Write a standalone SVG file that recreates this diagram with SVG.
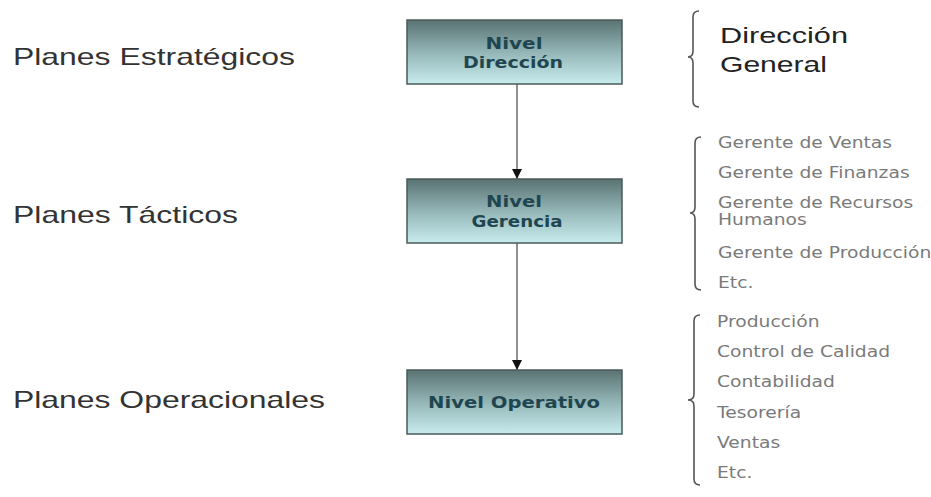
<svg xmlns="http://www.w3.org/2000/svg" width="931" height="497" viewBox="0 0 931 497">
<defs>
<linearGradient id="boxGrad" x1="0" y1="0" x2="0" y2="1">
<stop offset="0" stop-color="#5a7272"/>
<stop offset="0.5" stop-color="#93b5b6"/>
<stop offset="1" stop-color="#c8ecee"/>
</linearGradient>
<marker id="arrow" viewBox="0 0 10 10" refX="10" refY="5" markerWidth="10" markerHeight="10" markerUnits="userSpaceOnUse" orient="auto">
<path d="M0,0 L10,5 L0,10 Z" fill="#111"/>
</marker>
<style>
.box{fill:url(#boxGrad);stroke:#4b5a5a;stroke-width:1.5}
.boxtxt{font-family:"DejaVu Sans",Verdana,sans-serif;font-weight:bold;font-size:16.5px;fill:#1f4650;text-anchor:middle}
.plan{font-family:"Liberation Sans",Arial,sans-serif;font-size:24px;fill:#333}
.head{font-family:"Liberation Sans",Arial,sans-serif;font-size:22px;fill:#222}
.item{font-family:"DejaVu Sans",sans-serif;font-size:16px;fill:#7a7a7a}
.brace{fill:none;stroke:#555;stroke-width:1.6}
.conn{stroke:#555;stroke-width:1.3;fill:none}
</style>
</defs>
<rect width="931" height="497" fill="#fff"/>

<g id="labels-left">
<text class="plan" x="13" y="65" textLength="282" lengthAdjust="spacingAndGlyphs">Planes Estratégicos</text>
<text class="plan" x="13" y="223" textLength="225" lengthAdjust="spacingAndGlyphs">Planes Tácticos</text>
<text class="plan" x="13" y="408" textLength="312" lengthAdjust="spacingAndGlyphs">Planes Operacionales</text>
</g>

<g id="connectors">
<line class="conn" x1="517" y1="84" x2="517" y2="179" marker-end="url(#arrow)"/>
<line class="conn" x1="517" y1="243" x2="517" y2="370" marker-end="url(#arrow)"/>
</g>

<g id="node-direccion">
<rect class="box" x="407" y="20" width="215" height="64"/>
<text class="boxtxt" x="514" y="49" textLength="57" lengthAdjust="spacingAndGlyphs">Nivel</text>
<text class="boxtxt" x="513" y="68" textLength="100" lengthAdjust="spacingAndGlyphs">Dirección</text>
</g>
<g id="node-gerencia">
<rect class="box" x="407" y="179" width="215" height="64"/>
<text class="boxtxt" x="514" y="207" textLength="56" lengthAdjust="spacingAndGlyphs">Nivel</text>
<text class="boxtxt" x="517" y="227" textLength="91" lengthAdjust="spacingAndGlyphs">Gerencia</text>
</g>
<g id="node-operativo">
<rect class="box" x="407" y="370" width="215" height="64"/>
<text class="boxtxt" x="514" y="408" textLength="172" lengthAdjust="spacingAndGlyphs">Nivel Operativo</text>
</g>

<g id="group-direccion">
<path class="brace" d="M699,11 Q693,11 693,17 L693,51 Q693,57 688,57 Q693,57 693,63 L693,101 Q693,107 699,107"/>
<text class="head" x="720" y="43" textLength="128" lengthAdjust="spacingAndGlyphs">Dirección</text>
<text class="head" x="720" y="72" textLength="107" lengthAdjust="spacingAndGlyphs">General</text>
</g>

<g id="group-gerencia">
<path class="brace" d="M701,137 Q695,137 695,143 L695,207 Q695,213 690,213 Q695,213 695,219 L695,284 Q695,290 701,290"/>
<g transform="translate(718,0) scale(1.17,1)">
<text class="item" x="0" y="148">Gerente de Ventas</text>
<text class="item" x="0" y="178">Gerente de Finanzas</text>
<text class="item" x="0" y="208">Gerente de Recursos</text>
<text class="item" x="0" y="225">Humanos</text>
<text class="item" x="0" y="258">Gerente de Producción</text>
<text class="item" x="0" y="288">Etc.</text>
</g>
</g>

<g id="group-operativo">
<path class="brace" d="M700,315 Q694,315 694,321 L694,394 Q694,400 688,400 Q694,400 694,406 L694,479 Q694,485 700,485"/>
<g transform="translate(717,0) scale(1.17,1)">
<text class="item" x="0" y="327">Producción</text>
<text class="item" x="0" y="357">Control de Calidad</text>
<text class="item" x="0" y="387">Contabilidad</text>
<text class="item" x="0" y="418">Tesorería</text>
<text class="item" x="0" y="448">Ventas</text>
<text class="item" x="0" y="478">Etc.</text>
</g>
</g>
</svg>
